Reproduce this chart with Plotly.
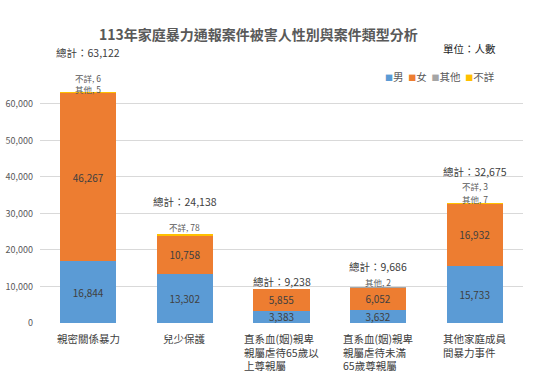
import plotly.graph_objects as go

categories = ["親密關係暴力", "兒少保護", "直系血(姻)親卑親屬虐待65歲以上尊親屬",
              "直系血(姻)親卑親屬虐待未滿65歲尊親屬", "其他家庭成員間暴力事件"]
category_labels = ["親密關係暴力", "兒少保護", "直系血(姻)親卑<br>親屬虐待65歲以<br>上尊親屬",
                   "直系血(姻)親卑<br>親屬虐待未滿<br>65歲尊親屬", "其他家庭成員<br>間暴力事件"]
series_names = ["男", "女", "其他", "不詳"]
male = [16844, 13302, 3383, 3632, 15733]
female = [46267, 10758, 5855, 6052, 16932]
other = [5, 0, 0, 2, 7]
unknown = [6, 78, 0, 0, 3]
totals = [63122, 24138, 9238, 9686, 32675]
y_ticks = [0, 10000, 20000, 30000, 40000, 50000, 60000]
title_text = "113年家庭暴力通報案件被害人性別與案件類型分析"
unit_text = "單位：人數"

colors = ["#5B9BD5", "#ED7D31", "#A5A5A5", "#FFC000"]
FONT = "Noto Sans CJK TC"

W, H = 550, 380
ML, MR, MT, MB = 40, 27, 82, 57
PW, PH = W - ML - MR, H - MT - MB


def px_to_paper(fx, fy):
    return (fx - ML) / PW, (H - MB - fy) / PH


# style offsets (pixels above bar top)
total_shift = [40, 33, 8, 21, 32]
other_shift = [4, None, None, 6, 5]
unknown_shift = [15, 8, None, None, 18]

fig = go.Figure()
values = [male, female, other, unknown]
for i, (name, vals) in enumerate(zip(series_names, values)):
    show_text = i < 2
    fig.add_trace(go.Bar(
        x=categories, y=vals, name=name,
        marker=dict(color=colors[i], line=dict(width=0)),
        texttemplate="%{y:,}" if show_text else None,
        textposition="inside" if show_text else "none",
        insidetextanchor="middle",
        constraintext="none",
        textfont=dict(family=FONT, size=10, color="#404040"),
        width=0.58,
        showlegend=False,
    ))

ann = []
for i, c in enumerate(categories):
    ann.append(dict(x=c, y=totals[i], xref="x", yref="y", yanchor="middle",
                    yshift=total_shift[i], showarrow=False,
                    text=f"總計：{totals[i]:,}",
                    font=dict(family=FONT, size=10.5, color="#404040")))
    if other_shift[i] is not None and other[i] > 0:
        ann.append(dict(x=c, y=totals[i], xref="x", yref="y", yanchor="middle",
                        yshift=other_shift[i], showarrow=False,
                        text=f"其他, {other[i]:,}",
                        font=dict(family=FONT, size=8.5, color="#595959")))
    if unknown_shift[i] is not None and unknown[i] > 0:
        ann.append(dict(x=c, y=totals[i], xref="x", yref="y", yanchor="middle",
                        yshift=unknown_shift[i], showarrow=False,
                        text=f"不詳, {unknown[i]:,}",
                        font=dict(family=FONT, size=8.5, color="#595959")))
    ann.append(dict(x=c, y=0, xref="x", yref="paper", yanchor="top", xanchor="center",
                    align="left", yshift=-6, showarrow=False,
                    text=category_labels[i],
                    font=dict(family=FONT, size=10.5, color="#404040")))

# title
tx, ty = px_to_paper(258, 34)
ann.append(dict(x=tx, y=ty, xref="paper", yref="paper", showarrow=False,
                xanchor="center", yanchor="middle",
                text=f"<b>{title_text}</b>",
                font=dict(family=FONT, size=14, color="#595959")))

# legend as text
legend_text = "  ".join(
    f"<span style='color:{col};font-size:8px'>■</span>{n}" for col, n in zip(colors, series_names))
lx, ly = px_to_paper(440, 76)
ann.append(dict(x=lx, y=ly, xref="paper", yref="paper", showarrow=False,
                xanchor="center", yanchor="middle",
                text=legend_text, font=dict(family=FONT, size=10.5, color="#595959")))
ux, uy = px_to_paper(469, 48)
ann.append(dict(x=ux, y=uy, xref="paper", yref="paper", showarrow=False,
                xanchor="center", yanchor="middle",
                text=unit_text, font=dict(family=FONT, size=10.5, color="#262626")))

fig.update_layout(
    width=W, height=H,
    margin=dict(l=ML, r=MR, t=MT, b=MB),
    barmode="stack",
    paper_bgcolor="white", plot_bgcolor="white",
    showlegend=False,
    annotations=ann,
    font=dict(family=FONT),
)

fig.update_yaxes(range=[0, 66000], tickvals=y_ticks, tickformat=",",
                 gridcolor="#D9D9D9", gridwidth=1, zeroline=False, showline=False,
                 tickfont=dict(family=FONT, size=9, color="#595959"), ticks="",
                 ticklabelstandoff=6, automargin=False)
fig.update_xaxes(showticklabels=False, showline=False, ticks="", automargin=False)

fig.write_html("out.html", config={"displayModeBar": False},
               post_script="document.body.style.margin='0';")
